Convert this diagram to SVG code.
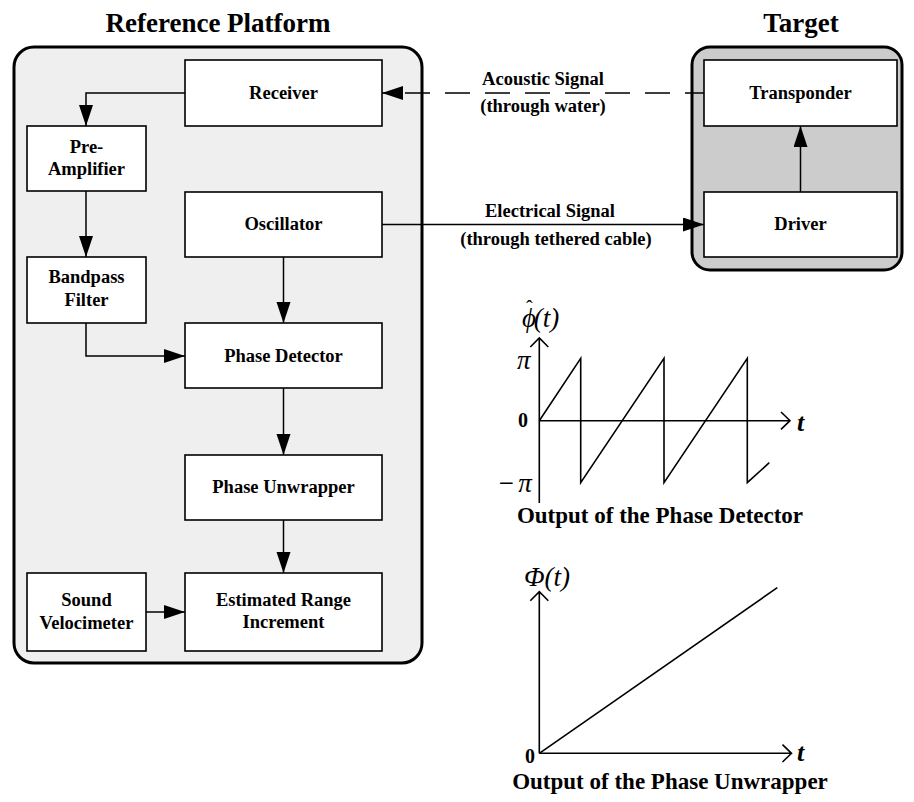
<svg xmlns="http://www.w3.org/2000/svg" width="914" height="802" viewBox="0 0 914 802">
  <style>
    .title { font-family: "Liberation Serif", "Times New Roman", serif; font-weight: bold; font-size: 27px; text-anchor: middle; fill: #000; }
    .lbl { font-family: "Liberation Serif", "Times New Roman", serif; font-weight: bold; font-size: 18.5px; text-anchor: middle; fill: #000; }
    .cap { font-family: "Liberation Serif", "Times New Roman", serif; font-weight: bold; font-size: 23px; text-anchor: middle; fill: #000; }
    .math { font-family: "Liberation Serif", "Times New Roman", serif; font-style: italic; font-size: 27px; fill: #000; }
    .mathb { font-family: "Liberation Serif", "Times New Roman", serif; font-style: italic; font-weight: bold; font-size: 26px; fill: #000; }
    .num { font-family: "Liberation Serif", "Times New Roman", serif; font-weight: bold; font-size: 20px; text-anchor: middle; fill: #000; }
    .box { fill: #fff; stroke: #000; stroke-width: 1.6; }
    .frame { stroke: #000; stroke-width: 3; }
    .wire { fill: none; stroke: #000; stroke-width: 1.5; }
    .plot { fill: none; stroke: #000; stroke-width: 1.6; }
  </style>
  <defs>
    <marker id="arrow" markerUnits="userSpaceOnUse" markerWidth="22" markerHeight="15" refX="21" refY="7" orient="auto">
      <path d="M0,0 L21,7 L0,14 Z" fill="#000"/>
    </marker>
  </defs>

  <!-- platform and target containers -->
  <g id="reference-platform">
    <text class="title" x="218" y="32">Reference Platform</text>
    <rect class="frame" x="14" y="47" width="408" height="616" rx="20" ry="20" fill="#efefef"/>
  </g>
  <g id="target">
    <text class="title" x="801" y="32">Target</text>
    <rect class="frame" x="692" y="47" width="210" height="223" rx="18" ry="18" fill="#cccccc"/>
  </g>

  <!-- processing blocks -->
  <g id="receiver">
    <rect class="box" x="185" y="60" width="197" height="66"/>
    <text class="lbl" x="283.5" y="99">Receiver</text>
  </g>
  <g id="pre-amplifier">
    <rect class="box" x="27" y="126" width="119" height="65"/>
    <text class="lbl" x="86.5" y="153">Pre-</text>
    <text class="lbl" x="86.5" y="175">Amplifier</text>
  </g>
  <g id="oscillator">
    <rect class="box" x="185" y="192" width="197" height="65"/>
    <text class="lbl" x="283.5" y="230">Oscillator</text>
  </g>
  <g id="bandpass-filter">
    <rect class="box" x="27" y="257" width="119" height="66"/>
    <text class="lbl" x="86.5" y="283">Bandpass</text>
    <text class="lbl" x="86.5" y="306">Filter</text>
  </g>
  <g id="phase-detector">
    <rect class="box" x="185" y="323" width="197" height="65"/>
    <text class="lbl" x="283.5" y="362">Phase Detector</text>
  </g>
  <g id="phase-unwrapper">
    <rect class="box" x="185" y="455" width="197" height="65"/>
    <text class="lbl" x="283.5" y="493">Phase Unwrapper</text>
  </g>
  <g id="sound-velocimeter">
    <rect class="box" x="27" y="573" width="119" height="78"/>
    <text class="lbl" x="86.5" y="606">Sound</text>
    <text class="lbl" x="86.5" y="629">Velocimeter</text>
  </g>
  <g id="estimated-range-increment">
    <rect class="box" x="185" y="573" width="197" height="78"/>
    <text class="lbl" x="283.5" y="606">Estimated Range</text>
    <text class="lbl" x="283.5" y="628">Increment</text>
  </g>
  <g id="transponder">
    <rect class="box" x="704" y="60" width="193" height="66"/>
    <text class="lbl" x="800.5" y="99">Transponder</text>
  </g>
  <g id="driver">
    <rect class="box" x="704" y="192" width="193" height="65"/>
    <text class="lbl" x="800.5" y="230">Driver</text>
  </g>

  <!-- signal paths -->
  <g id="connectors">
    <path class="wire" d="M185,93 H86 V126" marker-end="url(#arrow)"/>
    <path class="wire" d="M86,191 V257" marker-end="url(#arrow)"/>
    <path class="wire" d="M283.5,257 V323" marker-end="url(#arrow)"/>
    <path class="wire" d="M86,323 V356 H185" marker-end="url(#arrow)"/>
    <path class="wire" d="M283.5,388 V455" marker-end="url(#arrow)"/>
    <path class="wire" d="M283.5,520 V573" marker-end="url(#arrow)"/>
    <path class="wire" d="M146,612 H185" marker-end="url(#arrow)"/>
    <path class="wire" d="M800.5,192 V126" marker-end="url(#arrow)"/>
    <path class="wire" d="M704,93 H382" stroke-dasharray="25 15" stroke-dashoffset="6" marker-end="url(#arrow)"/>
    <path class="wire" d="M382,224.5 H704" marker-end="url(#arrow)"/>
    <text class="lbl" x="543" y="85">Acoustic Signal</text>
    <text class="lbl" x="543" y="112">(through water)</text>
    <text class="lbl" x="550" y="217">Electrical Signal</text>
    <text class="lbl" x="556" y="245">(through tethered cable)</text>
  </g>

  <!-- wrapped phase plot -->
  <g id="plot-phase-detector">
    <path class="plot" d="M539.3,503 V338 M530.3,347 L539.3,338 L548.3,347"/>
    <path class="plot" d="M539.3,420.7 H790 M781,412 L790,420.7 L781,429.4"/>
    <path class="plot" d="M539.3,420.7 L580.7,358.3 V482.7 L664,358.3 V482.7 L747.3,358.3 V482.7 L769.3,462.7"/>
    <text class="math" x="522" y="327">ϕ<tspan dx="-10" dy="-12" font-style="normal" font-size="20">ˆ</tspan><tspan dx="1" dy="12">(t)</tspan></text>
    <text class="math" x="517" y="369">π</text>
    <text class="num" x="523" y="427">0</text>
    <text class="math" x="497" y="492">−<tspan dx="3">π</tspan></text>
    <text class="mathb" x="797" y="431">t</text>
    <text class="cap" x="660" y="523">Output of the Phase Detector</text>
  </g>

  <!-- unwrapped phase plot -->
  <g id="plot-phase-unwrapper">
    <path class="plot" d="M539.3,753.3 V591.7 M530.3,600.7 L539.3,591.7 L548.3,600.7"/>
    <path class="plot" d="M539.3,753.3 H791.5 M782.5,744.6 L791.5,753.3 L782.5,762"/>
    <path class="plot" d="M539.3,753.3 L777.3,587.7"/>
    <text class="math" x="524" y="586">Φ(t)</text>
    <text class="num" x="530" y="763">0</text>
    <text class="mathb" x="797" y="761">t</text>
    <text class="cap" x="670" y="789">Output of the Phase Unwrapper</text>
  </g>
</svg>
